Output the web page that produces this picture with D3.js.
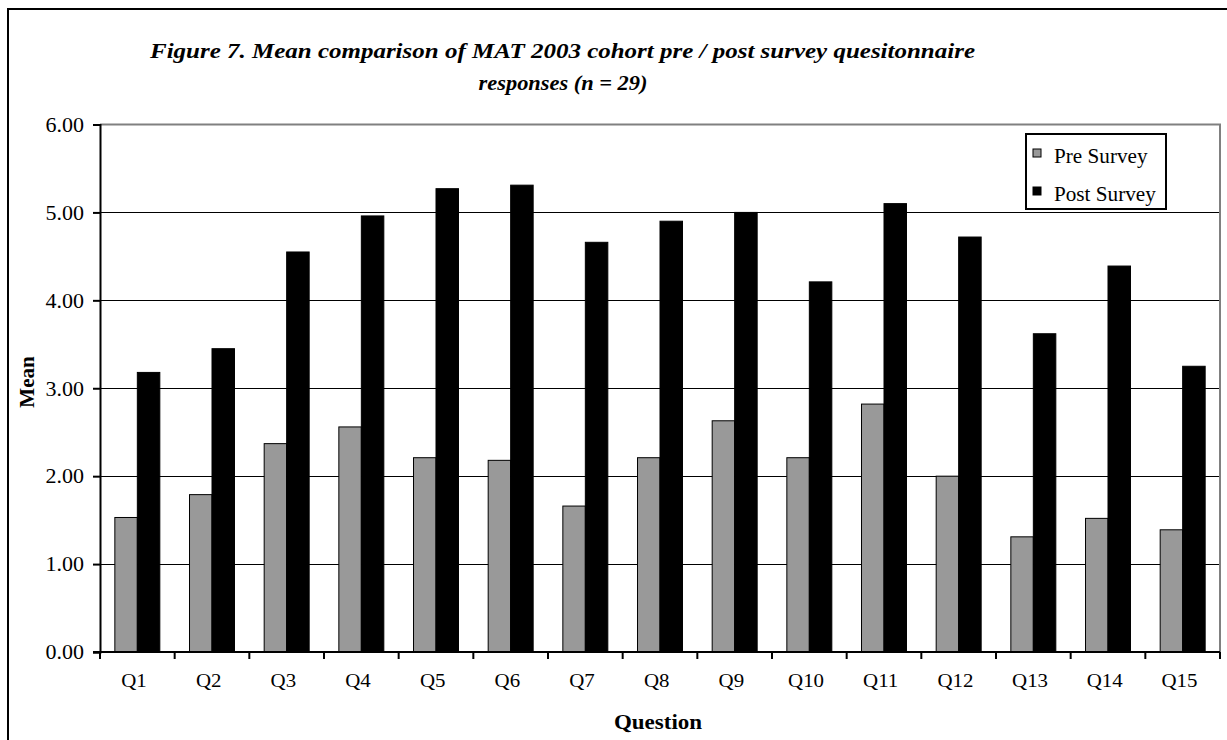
<!DOCTYPE html>
<html>
<head>
<meta charset="utf-8">
<script src="https://cdn.jsdelivr.net/npm/d3@7"></script>
<style>
  html, body { margin: 0; padding: 0; background: #fff; }
  svg { display: block; font-family: "Liberation Serif", "Times New Roman", serif; }
</style>
</head>
<body>
<svg id="chart" width="1227" height="740"></svg>
<script>
const categories = ["Q1","Q2","Q3","Q4","Q5","Q6","Q7","Q8","Q9","Q10","Q11","Q12","Q13","Q14","Q15"];
const seriesNames = ["Pre Survey", "Post Survey"];
const preValues  = [1.53, 1.79, 2.37, 2.56, 2.21, 2.18, 1.66, 2.21, 2.63, 2.21, 2.82, 2.00, 1.31, 1.52, 1.39];
const postValues = [3.18, 3.45, 4.55, 4.96, 5.27, 5.31, 4.66, 4.90, 5.00, 4.21, 5.10, 4.72, 3.62, 4.39, 3.25];
const yTicks = [0, 1, 2, 3, 4, 5, 6];
const titleLines = ["Figure 7.  Mean comparison of MAT 2003 cohort pre / post survey quesitonnaire", "responses (n = 29)"];
const xTitle = "Question";
const yTitle = "Mean";

const colors = { "Pre Survey": "#999999", "Post Survey": "#000000" };
const seriesValues = { "Pre Survey": preValues, "Post Survey": postValues };

const svg = d3.select("#chart");
const L = 100, R = 1220, T = 124.5, B = 652;

// outer frame (cut off at right and bottom as in the reference)
svg.append("rect").attr("x", 8).attr("y", 9).attr("width", 1400).attr("height", 900)
  .attr("fill", "none").attr("stroke", "#000").attr("stroke-width", 2);

// title
svg.append("text").attr("x", 150).attr("y", 58)
  .attr("textLength", 825).attr("lengthAdjust", "spacingAndGlyphs")
  .style("font-size", "20px").style("font-weight", "bold").style("font-style", "italic")
  .text(titleLines[0]);
svg.append("text").attr("transform", "translate(563,90) scale(1.12,1)").attr("text-anchor", "middle")
  .style("font-size", "20px").style("font-weight", "bold").style("font-style", "italic")
  .text(titleLines[1]);

const x = d3.scaleBand().domain(categories).range([L, R]).paddingInner(0).paddingOuter(0);
const xs = d3.scaleBand().domain(seriesNames).range([0, x.bandwidth()]).paddingInner(0).paddingOuter(0.66);
const y = d3.scaleLinear().domain([0, 6]).range([B, T]);

// gridlines
svg.append("g").selectAll("line").data(yTicks.filter(t => t > 0 && t < 6)).join("line")
  .attr("x1", L).attr("x2", R)
  .attr("y1", d => Math.round(y(d)) + 0.5).attr("y2", d => Math.round(y(d)) + 0.5)
  .attr("stroke", "#000").attr("stroke-width", 1.2);

// plot border top & right (gray)
svg.append("path")
  .attr("d", `M${L},${T} H${R} V${B}`)
  .attr("fill", "none").attr("stroke", "#808080").attr("stroke-width", 2);

// bars
const data = [];
categories.forEach((c, i) => seriesNames.forEach(s => data.push({ c, s, v: seriesValues[s][i] })));
svg.append("g").selectAll("rect").data(data).join("rect")
  .attr("x", d => x(d.c) + xs(d.s))
  .attr("y", d => y(d.v))
  .attr("width", xs.bandwidth())
  .attr("height", d => B - y(d.v))
  .attr("fill", d => colors[d.s])
  .attr("stroke", "#000").attr("stroke-width", 1);

// y axis
const yAxis = d3.axisLeft(y).tickValues(yTicks).tickFormat(d3.format(".2f")).tickSize(7).tickPadding(0);
const gy = svg.append("g").attr("transform", `translate(${L},0)`).call(yAxis);
gy.select(".domain").attr("stroke", "#000").attr("stroke-width", 2);
gy.selectAll(".tick line").attr("stroke", "#000").attr("stroke-width", 2);
gy.selectAll(".tick text").attr("fill", "#000").attr("x", -14.5).attr("dy", "0.34em")
  .attr("transform", "scale(1.1,1)")
  .style("font-size", "20px")
  .style("font-family", "'Liberation Serif', 'Times New Roman', serif");

// x axis
const xAxis = d3.axisBottom(x).tickSize(0).tickPadding(22);
const gx = svg.append("g").attr("transform", `translate(0,${B})`).call(xAxis);
gx.select(".domain").remove();
gx.selectAll(".tick text").attr("fill", "#000").attr("x", -3).attr("transform", "scale(1.1,1)")
  .style("font-size", "19px")
  .style("font-family", "'Liberation Serif', 'Times New Roman', serif");
svg.append("line").attr("x1", L - 7).attr("x2", R).attr("y1", B).attr("y2", B)
  .attr("stroke", "#000").attr("stroke-width", 2);
const bounds = categories.map(c => x(c)).concat([R]);
svg.append("g").selectAll("line").data(bounds).join("line")
  .attr("x1", d => d).attr("x2", d => d).attr("y1", B).attr("y2", B + 7)
  .attr("stroke", "#000").attr("stroke-width", 2);

// axis titles
svg.append("text").attr("transform", "translate(658,729) scale(1.15,1)").attr("text-anchor", "middle")
  .style("font-size", "20px").style("font-weight", "bold").text(xTitle);
svg.append("text").attr("transform", "translate(34,382) rotate(-90)").attr("text-anchor", "middle")
  .style("font-size", "21px").style("font-weight", "bold").text(yTitle);

// legend
const lg = svg.append("g");
lg.append("rect").attr("x", 1026).attr("y", 134).attr("width", 140).attr("height", 75)
  .attr("fill", "#fff").attr("stroke", "#000").attr("stroke-width", 2);
const items = lg.selectAll("g.item").data(seriesNames).join("g").attr("class", "item")
  .attr("transform", (d, i) => `translate(1033,${149 + i * 38})`);
items.append("rect").attr("width", 8).attr("height", 8)
  .attr("fill", d => colors[d]).attr("stroke", "#000").attr("stroke-width", 1);
items.append("text").attr("x", 21).attr("y", 14).attr("transform", "translate(21,14) scale(1.06,1) translate(-21,-14)")
  .style("font-size", "20px").text(d => d);
</script>
</body>
</html>
